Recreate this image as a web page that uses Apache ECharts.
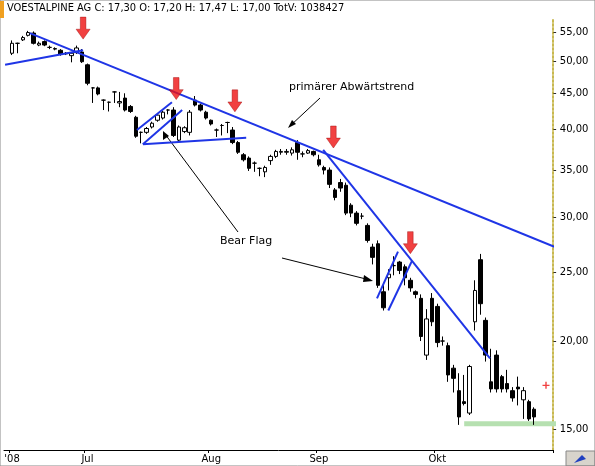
<!DOCTYPE html>
<html><head><meta charset="utf-8">
<script src="https://cdn.jsdelivr.net/npm/echarts@6/dist/echarts.min.js"></script>
<style>html,body{margin:0;padding:0;background:#fff}#c{width:595px;height:466px}</style>
</head><body><div id="c"></div>
<script>
// candles: [open, close, low, high]
const candles = [
[51.3,53.0,51.0,53.5],[53.0,53.0,51.3,53.1],[53.6,54.0,53.4,54.3],[54.4,54.9,54.2,55.2],[54.8,53.0,52.8,55.1],
[52.7,53.0,52.5,53.3],[53.3,52.7,52.5,53.5],[52.3,52.3,52.0,52.6],[52.0,52.1,51.8,52.3],[51.8,51.1,50.9,52.0],
[51.3,51.2,51.0,51.5],[50.9,51.3,49.8,51.5],[51.4,52.2,51.2,52.6],[51.5,49.9,49.7,52.0],[49.4,46.5,46.2,49.6],
[45.8,45.8,43.6,45.9],[45.8,44.9,44.7,46.0],[44.0,44.0,42.6,44.1],[43.7,43.7,42.4,43.8],[45.2,45.2,43.6,45.3],
[43.6,43.8,43.0,45.2],[44.3,42.6,42.4,45.0],[43.1,42.4,42.2,43.3],[41.6,39.1,38.9,41.8],[39.6,39.6,38.2,39.7],
[39.6,40.1,39.4,40.3],[40.3,40.8,40.1,41.0],[41.2,41.9,41.0,42.1],[41.5,42.3,41.3,42.5],[42.6,42.6,42.0,42.7],
[42.6,39.2,39.0,43.0],[38.6,40.3,38.4,40.5],[39.7,40.2,39.5,40.4],[39.6,42.3,39.2,42.6],[44.0,43.3,43.1,44.6],
[43.3,42.6,42.4,43.5],[42.3,41.5,41.3,42.5],[41.2,40.7,40.5,41.3],[39.9,39.9,39.0,40.1],[40.5,40.5,39.2,40.7],
[40.9,40.9,39.5,41.0],[39.9,38.3,38.1,40.3],[38.3,37.1,36.9,38.5],[36.8,36.2,36.0,37.0],[36.4,35.2,34.9,36.6],
[35.8,35.8,34.8,36.0],[35.2,35.2,34.3,35.3],[34.8,35.3,34.2,35.5],[36.1,36.6,35.6,36.8],[36.6,37.2,36.4,37.4],
[37.1,37.2,36.8,37.5],[37.1,37.2,36.8,37.5],[37.0,37.4,36.7,37.7],[38.3,37.1,36.2,38.6],[36.9,36.9,36.5,37.2],
[37.0,37.3,36.9,37.5],[37.2,36.8,36.6,37.3],[36.2,35.6,35.4,36.8],[35.3,35.0,34.5,35.5],[35.0,33.4,33.0,35.3],
[32.8,32.0,31.7,33.0],[33.6,33.0,32.6,34.0],[33.3,30.4,30.2,33.6],[31.2,30.4,30.0,31.4],[30.4,29.4,29.2,30.6],
[30.1,30.1,29.8,30.4],[29.2,27.8,27.6,29.4],[27.2,26.3,25.7,27.5],[27.5,24.0,23.8,27.8],[23.5,22.3,22.1,24.2],
[24.6,24.9,23.6,25.3],[25.6,25.6,24.8,26.4],[25.9,25.2,24.9,26.0],[25.5,24.6,24.0,25.7],[24.4,23.8,23.5,24.6],
[23.5,23.3,23.0,23.6],[23.0,20.3,20.0,23.3],[19.1,21.5,18.8,22.2],[23.0,21.3,21.0,23.4],[22.4,19.9,19.6,22.6],
[20.0,20.0,19.7,20.3],[19.7,17.9,17.5,19.9],[18.3,17.7,16.9,18.5],[17.0,15.6,15.2,18.0],[16.4,16.3,16.2,17.9],
[15.8,18.4,15.7,18.5],[21.3,23.6,20.7,24.4],[26.1,22.6,21.8,26.6],[21.4,19.1,18.7,21.6],[17.5,17.1,16.9,19.5],
[19.1,17.1,16.9,19.4],[17.8,17.1,16.9,17.9],[17.4,17.1,16.9,18.2],[17.0,16.6,16.4,17.2],[17.2,17.1,16.2,17.8],
[16.5,17.0,15.5,17.2],[16.4,15.5,15.4,16.5],[16.0,15.6,15.2,16.1]
];
const monthLabels = {1:"'08",15:"Jul",38:"Aug",58:"Sep",80:"Okt"};
const yTicks = [15,20,25,30,35,40,45,50,55];
// trend lines [[x,price],[x,price]] in slot units
const mainTrend = [[4.3,54.8],[101.9,27.2]];
const julySupport = [[-0.3,49.4],[14.2,51.8]];
const flag1a = [[24.2,39.9],[30.7,43.7]];
const flag1b = [[25.3,38.1],[32.6,42.6]];
const flag1c = [[25.3,38.1],[44.5,38.9]];
const septTrend = [[58.8,37.4],[89.8,18.9]];
const flag2a = [[68.8,23.0],[72.7,26.8]];
const flag2b = [[70.9,22.1],[75.3,26.0]];
const support = [[85.0,15.25],[102.5,15.25]];
const redArrows = [[14.2,55.7],[31.5,45.7],[42.4,43.9],[60.7,39.0],[75.0,27.6]];
const redPlus = [[100.2,17.3]];

const N = 102;
const cats = Array.from({length:N},(_,i)=>String(i));
const candleData = cats.map((c,i)=> (i>=1 && i<=candles.length) ? candles[i-1] : '-');
const blue = '#1f35e6';
function ln(d,extra){return Object.assign({type:'line',xAxisIndex:1,data:d,symbol:'none',silent:true,
  lineStyle:{color:blue,width:2},z:5},extra||{});}
const chart = echarts.init(document.getElementById('c'));
chart.setOption({
  animation:false,
  textStyle:{fontFamily:'DejaVu Sans'},
  grid:{left:4,right:42,top:20,bottom:16},
  xAxis:[
   {type:'category',data:cats,boundaryGap:true,
    axisLine:{lineStyle:{color:'#000',width:1}},
    axisTick:{show:true,length:3,interval:(i)=>monthLabels[i]!==undefined,lineStyle:{color:'#000'}},
    axisLabel:{interval:0,formatter:(v,i)=>monthLabels[i]||'',color:'#000',fontSize:10,margin:4},
    splitLine:{show:false}},
   {type:'value',min:-0.5,max:N-0.5,show:false}
  ],
  yAxis:{type:'log',position:'right',min:14.0,max:57.2,
    axisLine:{show:true,onZero:false,lineStyle:{color:'#c8b850',type:'dotted',width:2}},
    axisLabel:{show:false},axisTick:{show:false},splitLine:{show:false},minorTick:{show:false}},
  series:[
   {type:'candlestick',data:candleData,barWidth:4,z:4,
    itemStyle:{color:'#ffffff',color0:'#000000',borderColor:'#000000',borderColor0:'#000000',borderWidth:1},
    markLine:{silent:true,symbol:'none',lineStyle:{color:'rgba(0,0,0,0)',width:0},
      label:{show:true,position:'end',formatter:(p)=>'- '+p.value.toFixed(2).replace('.',','),color:'#000',fontSize:10,distance:0},
      data:yTicks.map(t=>({yAxis:t}))}},
   ln(support,{lineStyle:{color:'#b6e0b0',width:5},z:3}),
   ln(mainTrend), ln(julySupport), ln(flag1a), ln(flag1b), ln(flag1c), ln(septTrend), ln(flag2a), ln(flag2b),
   {type:'scatter',xAxisIndex:1,data:redArrows,symbol:'path://M3,0 L7,0 L7,11 L10,11 L5,20 L0,11 L3,11 Z',
    symbolSize:[14,22],itemStyle:{color:'#ee1111',borderColor:'#900',borderWidth:0.5},z:6,silent:true},
   {type:'scatter',xAxisIndex:1,data:redPlus,symbol:'path://M4,0 L6,0 L6,4 L10,4 L10,6 L6,6 L6,10 L4,10 L4,6 L0,6 L0,4 L4,4 Z',
    symbolSize:7,itemStyle:{color:'#e11'},z:6,silent:true}
  ],
  graphic:[
   {type:'rect',shape:{x:0,y:0,width:595,height:466},style:{fill:'none',stroke:'#888',lineWidth:1},z:100,silent:true},
   {type:'rect',shape:{x:0,y:1,width:4,height:17},style:{fill:'#f0a020'},z:100},
   {type:'text',left:7,top:3,style:{text:'VOESTALPINE AG C: 17,30 O: 17,20 H: 17,47 L: 17,00 TotV: 1038427',fill:'#000',font:'11px "DejaVu Sans Condensed", "DejaVu Sans"'}},
   {type:'text',left:289,top:82,style:{text:'primärer Abwärtstrend',fill:'#000',font:'11px "DejaVu Sans"'}},
   {type:'text',left:220,top:236,style:{text:'Bear Flag',fill:'#000',font:'11px "DejaVu Sans"'}},
   {type:'line',shape:{x1:320,y1:98,x2:290,y2:126},style:{stroke:'#000',lineWidth:1}},
   {type:'polygon',shape:{points:[[288,128],[292,120],[296,124]]},style:{fill:'#000'}},
   {type:'line',shape:{x1:238,y1:232,x2:165,y2:134},style:{stroke:'#000',lineWidth:1}},
   {type:'polygon',shape:{points:[[163,131],[163,140],[169,136]]},style:{fill:'#000'}},
   {type:'line',shape:{x1:282,y1:258,x2:370,y2:280},style:{stroke:'#000',lineWidth:1}},
   {type:'polygon',shape:{points:[[373,281],[364,275],[363,282]]},style:{fill:'#000'}},
   {type:'rect',shape:{x:566,y:451,width:29,height:15},style:{fill:'#d8d4cc',stroke:'#888'}},
   {type:'polygon',shape:{points:[[574,463],[582,455],[586,459]]},style:{fill:'#2040c0'}}
  ]
});
</script></body></html>
